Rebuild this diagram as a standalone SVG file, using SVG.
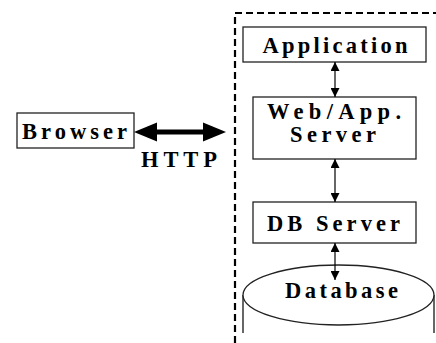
<svg xmlns="http://www.w3.org/2000/svg" width="436" height="343" viewBox="0 0 436 343">
<defs>
<style>
.box{fill:#fff;stroke:#222;stroke-width:1.3}
.t{font-family:"Liberation Serif","Times New Roman",serif;font-weight:bold;font-size:22.5px;fill:#000}
.dash{fill:none;stroke:#000;stroke-width:2.2;stroke-dasharray:7 4}
.thin{stroke:#000;stroke-width:1.2;fill:none}
</style>
<marker id="ah" viewBox="0 0 10 10" refX="10" refY="5" markerWidth="9" markerHeight="9" markerUnits="userSpaceOnUse" orient="auto-start-reverse">
<path d="M0,0 L10,5 L0,10 Z" fill="#000"/>
</marker>
</defs>
<rect width="436" height="343" fill="#fff"/>
<g id="boundary">
<path class="dash" d="M235,343 L235,13 L436,13"/>
</g>
<g id="browser">
<rect class="box" x="17" y="113" width="117" height="35"/>
<text class="t" x="22" y="139" textLength="105" lengthAdjust="spacing">Browser</text>
</g>
<g id="application">
<rect class="box" x="243" y="27" width="183" height="35"/>
<text class="t" x="262.5" y="53" textLength="145" lengthAdjust="spacing">Application</text>
</g>
<g id="webapp">
<rect class="box" x="253" y="97" width="163" height="62"/>
<text class="t" x="267" y="119" textLength="134" lengthAdjust="spacing">Web/App.</text>
<text class="t" x="290" y="142" textLength="86" lengthAdjust="spacing">Server</text>
</g>
<g id="dbserver">
<rect class="box" x="253" y="202" width="163" height="41"/>
<text class="t" x="267" y="231" textLength="133" lengthAdjust="spacing">DB Server</text>
</g>
<g id="database">
<line class="thin" x1="243" y1="295" x2="243" y2="333"/>
<line class="thin" x1="434" y1="295" x2="434" y2="333"/>
<ellipse cx="338.5" cy="295" rx="95.5" ry="30" fill="#fff" stroke="#222" stroke-width="1.3"/>
<text class="t" x="285" y="298" textLength="113" lengthAdjust="spacing">Database</text>
</g>
<g id="connectors">
<line class="thin" x1="335" y1="62" x2="335" y2="97" marker-start="url(#ah)" marker-end="url(#ah)"/>
<line class="thin" x1="335" y1="159" x2="335" y2="202" marker-start="url(#ah)" marker-end="url(#ah)"/>
<line class="thin" x1="335" y1="243" x2="335" y2="280" marker-start="url(#ah)" marker-end="url(#ah)"/>
<g id="http-arrow">
<rect x="155" y="129.5" width="50" height="5" fill="#000"/>
<path d="M134,132 L157,122.5 L157,141.5 Z" fill="#000"/>
<path d="M226,132 L203,122.5 L203,141.5 Z" fill="#000"/>
<text class="t" x="141" y="167" textLength="76" lengthAdjust="spacing">HTTP</text>
</g>
</g>
</svg>
